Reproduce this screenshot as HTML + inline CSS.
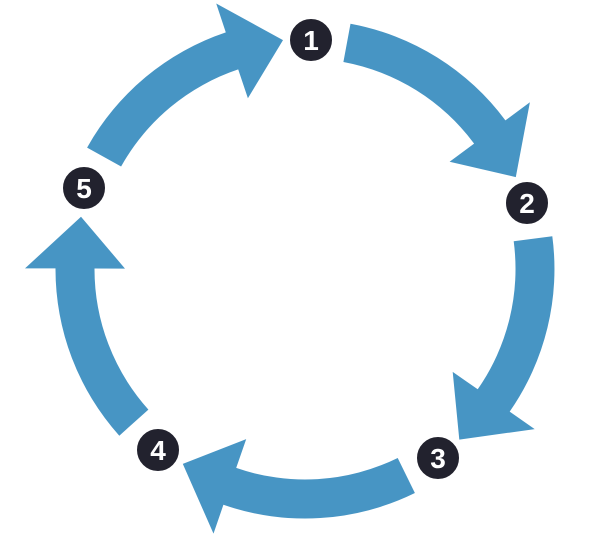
<!DOCTYPE html>
<html><head><meta charset="utf-8"><style>
html,body{margin:0;padding:0;background:#fff;width:600px;height:540px;overflow:hidden}
svg{display:block}
text{font-family:"Liberation Sans",sans-serif;font-weight:bold;font-size:28px;fill:#fff}
</style></head><body>
<svg id="s" width="600" height="540" viewBox="0 0 600 540"></svg>
<script>
var cx=305,cy=269,R=230,w=39,h=50;
var nodes=[[311,40,'1'],[527,203,'2'],[438,458,'3'],[158,450,'4'],[84,188,'5']];
var svg=document.getElementById('s'),out='';
function ang(n){return Math.atan2(n[1]-cy,n[0]-cx)*180/Math.PI;}
function pt(a,r){a=a*Math.PI/180;return (cx+r*Math.cos(a)).toFixed(1)+','+(cy+r*Math.sin(a)).toFixed(1);}
for(var i=0;i<5;i++){
  var a1=ang(nodes[i]),a2=ang(nodes[(i+1)%5]);
  if(a2<a1)a2+=360;
  var s=a1+9,b=a2-20,t=a2-7;
  var ro=R+w/2,ri=R-w/2;
  var d='M'+pt(s,ro)+' A'+ro+','+ro+' 0 0 1 '+pt(b,ro)+' L'+pt(b,R+h)+' L'+pt(t,R)+' L'+pt(b,R-h)+' L'+pt(b,ri)+' A'+ri+','+ri+' 0 0 0 '+pt(s,ri)+' Z';
  out+='<path d="'+d+'" fill="#4795c4"/>';
}
nodes.forEach(function(n){
  out+='<circle cx="'+n[0]+'" cy="'+n[1]+'" r="22" fill="#22222e" stroke="#fff" stroke-width="2"/>';
  out+='<text x="'+n[0]+'" y="'+(n[1]+10)+'" text-anchor="middle">'+n[2]+'</text>';
});
svg.innerHTML=out;
</script>
</body></html>
